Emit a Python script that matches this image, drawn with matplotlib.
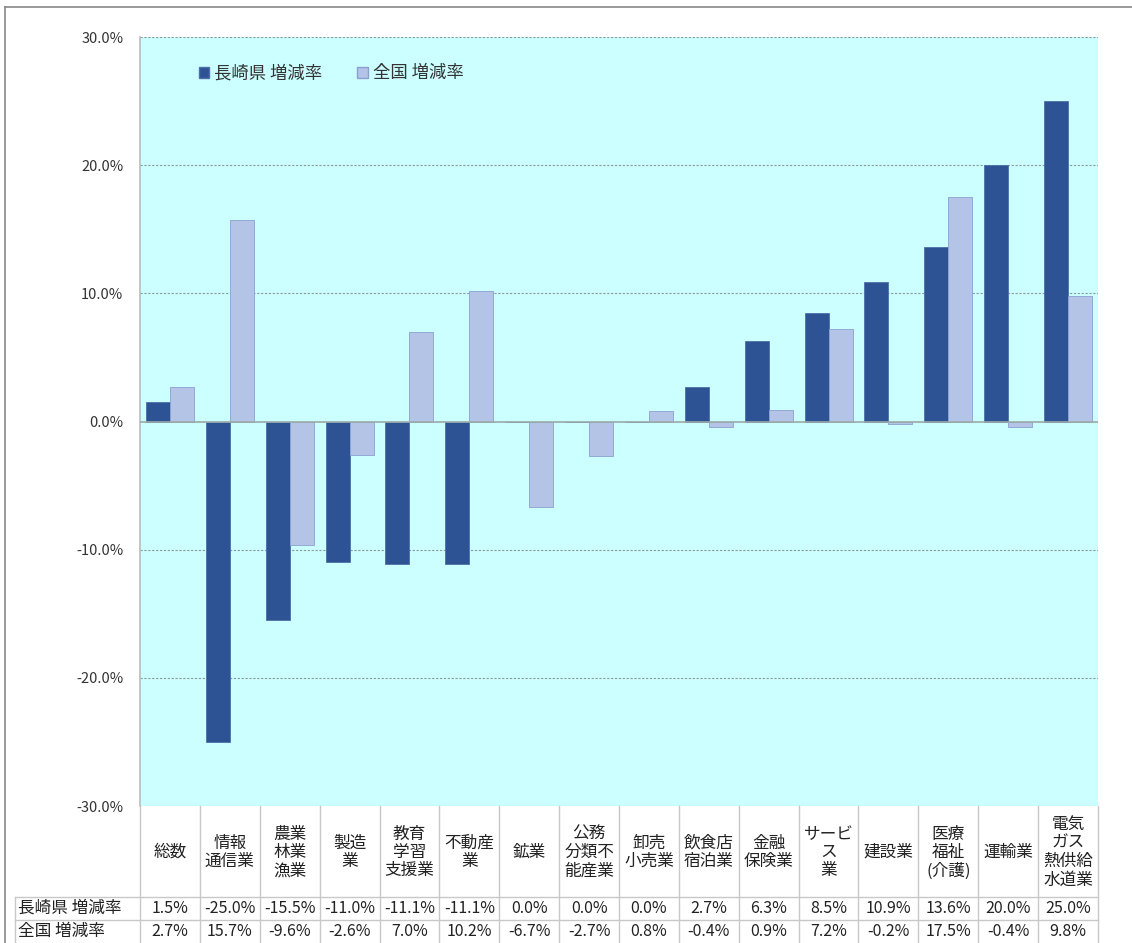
import matplotlib
matplotlib.use("Agg")
import matplotlib.pyplot as plt
from matplotlib.lines import Line2D
from matplotlib.patches import Rectangle
import numpy as np

plt.rcParams['font.family'] = ['Noto Sans CJK JP', 'DejaVu Sans']

categories = ["総数", "情報\n通信業", "農業\n林業\n漁業", "製造\n業", "教育\n学習\n支援業",
              "不動産\n業", "鉱業", "公務\n分類不\n能産業", "卸売\n小売業", "飲食店\n宿泊業",
              "金融\n保険業", "サービ\nス\n業", "建設業", "医療\n福祉\n(介護)", "運輸業",
              "電気\nガス\n熱供給\n水道業"]
nagasaki = [1.5, -25.0, -15.5, -11.0, -11.1, -11.1, 0.0, 0.0, 0.0, 2.7, 6.3, 8.5, 10.9, 13.6, 20.0, 25.0]
national = [2.7, 15.7, -9.6, -2.6, 7.0, 10.2, -6.7, -2.7, 0.8, -0.4, 0.9, 7.2, -0.2, 17.5, -0.4, 9.8]
series_names = ["長崎県 増減率", "全国 増減率"]
yticks = [-30, -20, -10, 0, 10, 20, 30]

W, H = 1132, 943
fig = plt.figure(figsize=(W / 100, H / 100), dpi=100)
fig.patch.set_facecolor("white")

left, right, top, bottom = 140, 1098, 37, 806
ax = fig.add_axes([left / W, 1 - bottom / H, (right - left) / W, (bottom - top) / H])
ax.set_facecolor("#CCFFFF")

dark = "#2E5394"
light = "#B4C4E6"
x = np.arange(len(categories))
bw = 0.4
ax.bar(x - bw / 2, nagasaki, width=bw, color=dark, edgecolor="#4F6FAA", linewidth=0.6, zorder=3)
ax.bar(x + bw / 2, national, width=bw, color=light, edgecolor="#8C9FD0", linewidth=0.6, zorder=3)

ax.set_xlim(-0.5, len(categories) - 0.5)
ax.set_ylim(-30, 30)
ax.set_yticks(yticks)
ax.set_yticklabels([f"{v:.1f}%" for v in yticks], fontsize=10.5, color="#333333")
ax.tick_params(axis="y", length=0, pad=12)
ax.set_xticks([])
for v in yticks:
    if v == 0:
        ax.axhline(v, color="#9AAAA8", lw=1.2, zorder=4)
    else:
        ax.axhline(v, color="#8A9A9A", lw=0.8, ls=(0, (2, 1.5)), zorder=1)
for s in ["top", "right", "bottom"]:
    ax.spines[s].set_visible(False)
ax.spines["left"].set_color("#BBBBBB")
ax.spines["left"].set_linewidth(1.2)

# legend
handles = [Rectangle((0, 0), 1, 1, facecolor=dark, edgecolor="#4F6FAA"),
           Rectangle((0, 0), 1, 1, facecolor=light, edgecolor="#8C9FD0")]
leg = ax.legend(handles, series_names, loc="upper left", bbox_to_anchor=(0.045, 0.985),
                ncol=2, frameon=False, fontsize=12.5, handlelength=0.6, handleheight=0.6,
                handletextpad=0.3, columnspacing=2.0)
for t in leg.get_texts():
    t.set_color("#333333")

# data table beneath the plot
def fy(py):
    return 1 - py / H

def fx(px):
    return px / W

row_top = 806
row1 = 897
row2 = 920
row3 = 943
lab_left = 15
grid_c = "#C8C8C8"

def fline(x0, y0, x1, y1, color=grid_c, lw=1.0):
    fig.add_artist(Line2D([fx(x0), fx(x1)], [fy(y0), fy(y1)], color=color, lw=lw))

colw = (right - left) / len(categories)
for i in range(len(categories) + 1):
    xp = left + i * colw
    fline(xp, row_top, xp, row3)
fline(lab_left, row1, right, row1)
fline(lab_left, row2, right, row2)
fline(lab_left, row1, lab_left, row3)

for i, cat in enumerate(categories):
    cx = left + (i + 0.5) * colw
    fig.text(fx(cx), fy((row_top + row1) / 2 + 1), cat, ha="center", va="center",
             fontsize=12, color="#222222", linespacing=1.1)
    fig.text(fx(cx), fy((row1 + row2) / 2), f"{nagasaki[i]:.1f}%", ha="center", va="center",
             fontsize=11.5, color="#222222")
    fig.text(fx(cx), fy((row2 + row3) / 2), f"{national[i]:.1f}%", ha="center", va="center",
             fontsize=11.5, color="#222222")

fig.text(fx(18), fy((row1 + row2) / 2), series_names[0], ha="left", va="center",
         fontsize=12, color="#222222")
fig.text(fx(18), fy((row2 + row3) / 2), series_names[1], ha="left", va="center",
         fontsize=12, color="#222222")

# outer chart frame
fline(5, 7, W, 7, color="#888888", lw=1.2)
fline(5, 7, 5, H, color="#888888", lw=1.2)

fig.savefig("out.png", dpi=100)
